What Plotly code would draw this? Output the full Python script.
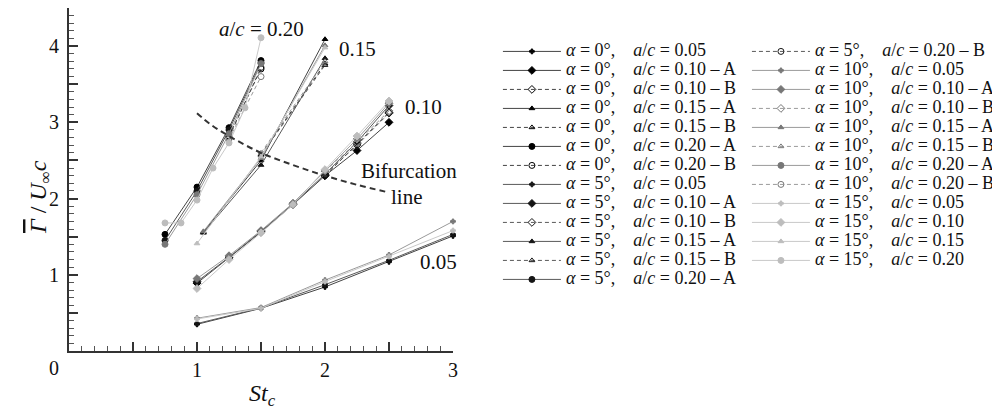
import plotly.graph_objects as go

# ---------------- data ----------------
st_05 = [1.0, 1.5, 2.0, 2.5, 3.0]
g_a0_05 = [0.35, 0.56, 0.84, 1.17, 1.51]
g_a5_05 = [0.36, 0.565, 0.87, 1.19, 1.53]
g_a10_05 = [0.43, 0.57, 0.93, 1.26, 1.70]
g_a15_05 = [0.42, 0.56, 0.91, 1.24, 1.58]

st_10A = [1.0, 1.25, 1.5, 1.75, 2.0, 2.25, 2.5]
st_10B = [2.0, 2.25, 2.5]
g_a0_10A = [0.89, 1.22, 1.56, 1.92, 2.30, 2.63, 3.00]
g_a0_10B = [2.30, 2.72, 3.13]
g_a5_10A = [0.91, 1.23, 1.57, 1.93, 2.32, 2.74, 3.22]
g_a5_10B = [2.32, 2.70, 3.12]
g_a10_10A = [0.95, 1.25, 1.58, 1.94, 2.36, 2.78, 3.25]
g_a10_10B = [2.36, 2.74, 3.15]
g_a15_10 = [0.82, 1.20, 1.55, 1.92, 2.38, 2.82, 3.28]

st_15A = [1.05, 1.5, 2.0]
st_15B = [1.5, 2.0]
st_15_a15 = [1.0, 1.5, 2.0]
g_a0_15A = [1.56, 2.50, 4.09]
g_a0_15B = [2.58, 3.77]
g_a5_15A = [1.55, 2.44, 3.84]
g_a5_15B = [2.57, 3.75]
g_a10_15A = [1.57, 2.53, 4.01]
g_a10_15B = [2.60, 3.80]
g_a15_15 = [1.41, 2.55, 3.98]

st_20A = [0.75, 1.0, 1.25, 1.5]
st_20B = [1.25, 1.5]
st_20_a15 = [0.75, 0.875, 1.0, 1.125, 1.25, 1.375, 1.5]
g_a0_20A = [1.53, 2.15, 2.93, 3.81]
g_a0_20B = [2.82, 3.70]
g_a5_20A = [1.45, 2.10, 2.90, 3.78]
g_a5_20B = [2.80, 3.72]
g_a10_20A = [1.40, 2.05, 2.85, 3.77]
g_a10_20B = [2.78, 3.60]
g_a15_20 = [1.68, 1.68, 1.98, 2.40, 2.73, 3.19, 4.11]

bif_st = [1.0, 1.1, 1.25, 1.5, 1.75, 2.0, 2.25, 2.5]
bif_g = [3.12, 2.98, 2.82, 2.60, 2.44, 2.30, 2.18, 2.08]

x_tickvals = [0, 0.5, 1, 1.5, 2, 2.5, 3]
x_ticktext = ["", "", "1", "", "2", "", "3"]
y_tickvals = [0.5, 1, 1.5, 2, 2.5, 3, 3.5, 4, 4.5]
y_ticktext = ["", "1", "", "2", "", "3", "", "4", ""]

# ---------------- styles ----------------
FONT = "Liberation Serif"
line_col = {0: "#444444", 5: "#5a5a5a", 10: "#9a9a9a", 15: "#c9c9c9"}
mark_col = {0: "#000000", 5: "#151515", 10: "#777777", 15: "#bdbdbd"}

def label(alpha, ac, branch=None):
    s = (f"<span style='font-size:18px'><i>α</i> = {alpha}°,\u2003"
         f"<i>a</i>/<i>c</i> = {ac}")
    if branch:
        s += f" – {branch}"
    return s + "</span>"

series = [
    # (alpha, ac, branch, x, y, symbol, size, dashed, legend)
    (0, "0.05", None, st_05, g_a0_05, "cross", 4, False, "legend"),
    (0, "0.10", "A", st_10A, g_a0_10A, "diamond", 6, False, "legend"),
    (0, "0.10", "B", st_10B, g_a0_10B, "diamond-open", 6, True, "legend"),
    (0, "0.15", "A", st_15A, g_a0_15A, "triangle-up", 5, False, "legend"),
    (0, "0.15", "B", st_15B, g_a0_15B, "triangle-up-open", 5, True, "legend"),
    (0, "0.20", "A", st_20A, g_a0_20A, "circle", 6, False, "legend"),
    (0, "0.20", "B", st_20B, g_a0_20B, "circle-open", 6, True, "legend"),
    (5, "0.05", None, st_05, g_a5_05, "cross", 4, False, "legend"),
    (5, "0.10", "A", st_10A, g_a5_10A, "diamond", 6, False, "legend"),
    (5, "0.10", "B", st_10B, g_a5_10B, "diamond-open", 6, True, "legend"),
    (5, "0.15", "A", st_15A, g_a5_15A, "triangle-up", 5, False, "legend"),
    (5, "0.15", "B", st_15B, g_a5_15B, "triangle-up-open", 5, True, "legend"),
    (5, "0.20", "A", st_20A, g_a5_20A, "circle", 6, False, "legend"),
    (5, "0.20", "B", st_20B, g_a5_20B, "circle-open", 6, True, "legend2"),
    (10, "0.05", None, st_05, g_a10_05, "cross", 4, False, "legend2"),
    (10, "0.10", "A", st_10A, g_a10_10A, "diamond", 6, False, "legend2"),
    (10, "0.10", "B", st_10B, g_a10_10B, "diamond-open", 6, True, "legend2"),
    (10, "0.15", "A", st_15A, g_a10_15A, "triangle-up", 5, False, "legend2"),
    (10, "0.15", "B", st_15B, g_a10_15B, "triangle-up-open", 5, True, "legend2"),
    (10, "0.20", "A", st_20A, g_a10_20A, "circle", 6, False, "legend2"),
    (10, "0.20", "B", st_20B, g_a10_20B, "circle-open", 6, True, "legend2"),
    (15, "0.05", None, st_05, g_a15_05, "cross", 4, False, "legend2"),
    (15, "0.10", None, st_10A, g_a15_10, "diamond", 6, False, "legend2"),
    (15, "0.15", None, st_15_a15, g_a15_15, "triangle-up", 5, False, "legend2"),
    (15, "0.20", None, st_20_a15, g_a15_20, "circle", 6, False, "legend2"),
]

fig = go.Figure()
for alpha, ac, br, xs, ys, sym, sz, dashed, leg in series:
    fig.add_trace(go.Scatter(
        x=xs, y=ys, mode="lines+markers", name=label(alpha, ac, br),
        legend=leg, cliponaxis=False,
        line=dict(color=line_col[alpha], width=1, dash="4px,3px" if dashed else "solid"),
        marker=dict(symbol=sym, size=sz, color=mark_col[alpha],
                    line=dict(color=mark_col[alpha], width=1)),
    ))

fig.add_trace(go.Scatter(
    x=bif_st, y=bif_g, mode="lines", showlegend=False,
    line=dict(color="#333333", width=2, dash="6px,4px", shape="spline"),
))

axis_common = dict(
    showline=True, linewidth=2, linecolor="#333333", showgrid=False, zeroline=False,
    ticks="inside", ticklen=9, tickwidth=1.5, tickcolor="#333333", tickmode="array",
    tickfont=dict(family=FONT, size=20, color="#111"),
    minor=dict(ticks="inside", ticklen=5, tickwidth=1, tickcolor="#555555", dtick=0.1, tick0=0),
)
fig.update_xaxes(range=[0, 3], tickvals=x_tickvals, ticktext=x_ticktext,
                 ticklabelstandoff=0, **axis_common)
fig.update_yaxes(range=[0, 4.5], tickvals=y_tickvals, ticktext=y_ticktext,
                 ticklabelstandoff=4, **axis_common)

ann_font = dict(family=FONT, size=21, color="#111")
C = dict(showarrow=False, xanchor="center", yanchor="middle")
annotations = [
    dict(x=1.5, y=4.23, xref="x", yref="y", text="<i>a</i>/<i>c</i> = 0.20", font=ann_font, **C),
    dict(x=2.25, y=3.96, xref="x", yref="y", text="0.15", font=ann_font, **C),
    dict(x=2.77, y=3.20, xref="x", yref="y", text="0.10", font=ann_font, **C),
    dict(x=2.66, y=2.36, xref="x", yref="y", text="Bifurcation", font=ann_font, **C),
    dict(x=2.64, y=2.02, xref="x", yref="y", text="line", font=ann_font, **C),
    dict(x=2.89, y=1.17, xref="x", yref="y", text="0.05", font=ann_font, **C),
    dict(x=-0.039, y=-0.05, xref="paper", yref="paper", text="0",
         font=dict(family=FONT, size=20, color="#111"), **C),
    dict(x=0.503, y=-0.128, xref="paper", yref="paper", text="<i>St</i><sub><i>c</i></sub>",
         font=dict(family=FONT, size=24, color="#111"), **C),
    dict(x=-0.0755, y=0.449, xref="paper", yref="paper",
         text="<span style='text-decoration:overline'><i>Γ</i></span> / <i>U</i><sub>∞</sub><i>c</i>",
         textangle=-90, font=dict(family=FONT, size=24, color="#111"), **C),
]

leg_common = dict(font=dict(family=FONT, size=12, color="#111"), bgcolor="rgba(0,0,0,0)",
                  yref="container", yanchor="top", xanchor="left", itemwidth=58,
                  tracegroupgap=0, maxheight=400)
fig.update_layout(
    width=1000, height=413,
    margin=dict(l=61, r=555, t=0, b=70, autoexpand=False),
    plot_bgcolor="white", paper_bgcolor="white",
    annotations=annotations,
    legend=dict(x=1.117, y=0.93, **leg_common),
    legend2=dict(x=1.7655, y=0.93, **leg_common),
)

fig.write_html("out.html")
